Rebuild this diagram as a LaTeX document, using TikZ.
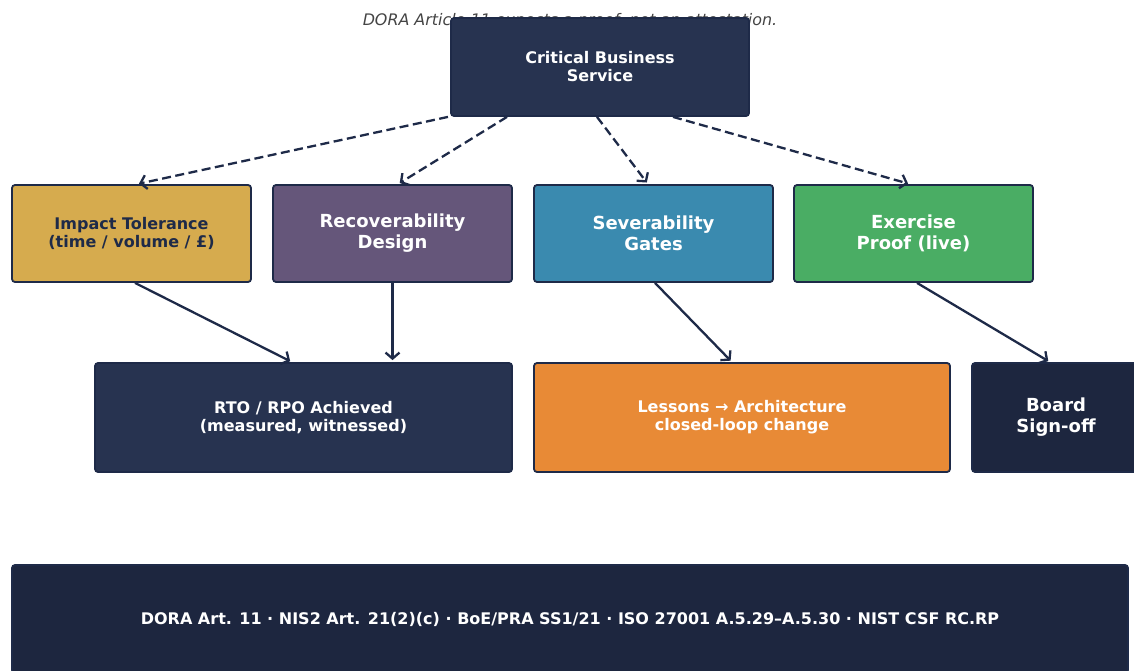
\documentclass[tikz,border=0pt]{standalone}
\usepackage{fontspec}
\setmainfont{DejaVu Sans}
\usetikzlibrary{arrows.meta}

\definecolor{navy}{HTML}{273350}
\definecolor{ink}{HTML}{1E2A48}
\definecolor{deepnavy}{HTML}{1D263F}
\definecolor{gold}{HTML}{D6AB4E}
\definecolor{plum}{HTML}{65567A}
\definecolor{steel}{HTML}{3A8AAF}
\definecolor{leaf}{HTML}{4AAD64}
\definecolor{amber}{HTML}{E88A36}
\definecolor{caption}{HTML}{444444}

\begin{document}
\begin{tikzpicture}[x=1pt, y=-1pt,
  box/.style={draw=ink, line width=1.8pt, rounded corners=3pt, align=center, text=white,
    inner sep=0pt, font=\bfseries\fontsize{16}{18}\selectfont},
  bigbox/.style={box, font=\bfseries\fontsize{18}{21}\selectfont},
  tier/.style={minimum width=239pt, minimum height=97pt},
  link/.style={draw=ink, line width=2.3pt, shorten >=2pt, -{Straight Barb[length=6pt,width=14pt]}},
  dashlink/.style={link, dash pattern=on 9pt off 4.5pt}]
  \useasboundingbox (0,0) rectangle (1134,671);

  \node[font=\itshape\fontsize{15.9}{18}\selectfont, text=caption] (title) at (570,21)
    {DORA Article 11 expects a proof, not an attestation.};

  \node[box, fill=navy, minimum width=298pt, minimum height=98pt] (cbs) at (600,67)
    {Critical Business\\Service};

  \node[box, tier, fill=gold, text=ink] (tol) at (131.5,233.5) {Impact Tolerance\\(time / volume / £)};
  \node[bigbox, tier, fill=plum] (rec) at (392.5,233.5) {Recoverability\\Design};
  \node[bigbox, tier, fill=steel] (sev) at (653.5,233.5) {Severability\\Gates};
  \node[bigbox, tier, fill=leaf] (exer) at (913.5,233.5) {Exercise\\Proof (live)};

  \node[box, fill=navy, minimum width=417pt, minimum height=109pt] (rto) at (303.5,417.5)
    {RTO / RPO Achieved\\(measured, witnessed)};
  \node[box, fill=amber, minimum width=416pt, minimum height=109pt] (lessons) at (742,417.5)
    {Lessons → Architecture\\closed-loop change};
  \node[bigbox, fill=deepnavy, minimum width=168pt, minimum height=109pt] (board) at (1056,417.5)
    {Board\\Sign-off};

  \node[box, fill=deepnavy, minimum width=1116pt, minimum height=108pt] (refs) at (570,619)
    {DORA Art. 11 · NIS2 Art. 21(2)(c) · BoE/PRA SS1/21 · ISO 27001 A.5.29–A.5.30 · NIST CSF RC.RP};

  \draw[dashlink] ([xshift=-152pt]cbs.south) -- ([xshift=5.5pt]tol.north);
  \draw[dashlink] ([xshift=-93pt]cbs.south) -- ([xshift=5.5pt]rec.north);
  \draw[dashlink] ([xshift=-3pt]cbs.south) -- ([xshift=-5.5pt]sev.north);
  \draw[dashlink] ([xshift=73pt]cbs.south) -- ([xshift=-3.5pt]exer.north);

  \draw[link] ([xshift=3.5pt]tol.south) -- ([xshift=-11.5pt]rto.north);
  \draw[link] (rec.south) -- (rec.south |- rto.north);
  \draw[link] ([xshift=1.5pt]sev.south) -- ([xshift=-10pt]lessons.north);
  \draw[link] ([xshift=3.5pt]exer.south) -- ([xshift=-6pt]board.north);
\end{tikzpicture}
\end{document}
